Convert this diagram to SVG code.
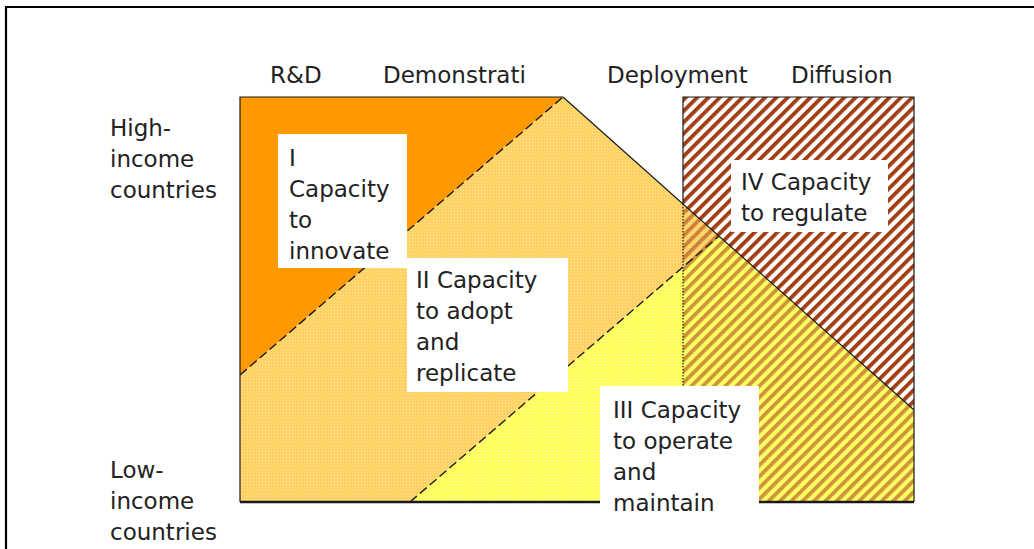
<svg xmlns="http://www.w3.org/2000/svg" width="1034" height="549" viewBox="0 0 1034 549">
<style>
text{font-family:"DejaVu Sans","Liberation Sans",sans-serif;font-size:23px;fill:#222}
.box{fill:#fff}
.edge{fill:none;stroke:#1a1a1a;stroke-width:1.2}
.dash{fill:none;stroke:#1a1a1a;stroke-width:1.4;stroke-dasharray:9 4}
</style>
<defs>
<pattern id="hatch" width="8" height="8" patternUnits="userSpaceOnUse" patternTransform="rotate(45)">
<rect width="8" height="8" fill="#fff"/>
<rect width="3.8" height="8" fill="#A23C12"/>
</pattern>
<pattern id="hatchOver" width="8" height="8" patternUnits="userSpaceOnUse" patternTransform="rotate(45)">
<rect width="3.8" height="8" fill="#A23C12" fill-opacity="0.55"/>
</pattern>
<pattern id="dotsII" width="3" height="3" patternUnits="userSpaceOnUse">
<rect width="3" height="3" fill="#FFD266"/>
<rect x="1" y="1" width="1" height="1" fill="#FFE49A"/>
</pattern>
<pattern id="dotsIII" width="3" height="3" patternUnits="userSpaceOnUse">
<rect width="3" height="3" fill="#FFFF5C"/>
<rect x="1" y="1" width="1" height="1" fill="#FFFFB0"/>
</pattern>
</defs>

<g id="frame">
<path d="M6 549 V7 H1034" fill="none" stroke="#000" stroke-width="2.2"/>
</g>

<g id="regions">
<polygon id="region-I" points="240,97 563,97 240,375" fill="#FF9900"/>
<polygon id="region-II" points="563,97 719,236 410,502 240,502 240,375" fill="url(#dotsII)"/>
<polygon id="region-III" points="719,236 914,410 914,502 410,502" fill="url(#dotsIII)"/>
<polygon id="region-IV" points="683,97 914,97 914,410 683,204" fill="url(#hatch)"/>
<polygon id="region-IV-overlap" points="683,204 914,410 914,502 683,502" fill="url(#hatchOver)"/>
</g>

<g id="connectors">
<path class="edge" d="M240 375 V502 M240 375 V97 H563"/>
<path class="edge" d="M563 97 L914 410"/>
<path class="dash" d="M240 375 L563 97"/>
<path class="dash" d="M410 502 L719 236"/>
<path class="edge" d="M683 204 V97 H914 V502"/>
<path d="M683 204 V502" fill="none" stroke="#1a1a1a" stroke-width="1.2" stroke-dasharray="1.5 1.5"/>
<path d="M240 502 H914" fill="none" stroke="#1a1a1a" stroke-width="2.4"/>
</g>

<g id="axis-labels">
<text x="270" y="83">R&amp;D</text>
<text x="383" y="83">Demonstrati</text>
<text x="607" y="83">Deployment</text>
<text x="791" y="83">Diffusion</text>
<text x="110" y="136">High-</text>
<text x="110" y="167">income</text>
<text x="110" y="198">countries</text>
<text x="110" y="478">Low-</text>
<text x="110" y="509">income</text>
<text x="110" y="540">countries</text>
</g>

<g id="node-I">
<rect class="box" x="278" y="134" width="129" height="134"/>
<text x="289" y="166">I</text>
<text x="289" y="197">Capacity</text>
<text x="289" y="228">to</text>
<text x="289" y="259">innovate</text>
</g>

<g id="node-II">
<rect class="box" x="407" y="258" width="161" height="134"/>
<text x="416" y="288">II Capacity</text>
<text x="416" y="319">to adopt</text>
<text x="416" y="350">and</text>
<text x="416" y="381">replicate</text>
</g>

<g id="node-IV">
<rect class="box" x="731" y="160" width="157" height="72"/>
<text x="741" y="190">IV Capacity</text>
<text x="741" y="221">to regulate</text>
</g>

<g id="node-III">
<rect class="box" x="600" y="386" width="159" height="134"/>
<text x="613" y="418">III Capacity</text>
<text x="613" y="449">to operate</text>
<text x="613" y="480">and</text>
<text x="613" y="511">maintain</text>
</g>
</svg>
